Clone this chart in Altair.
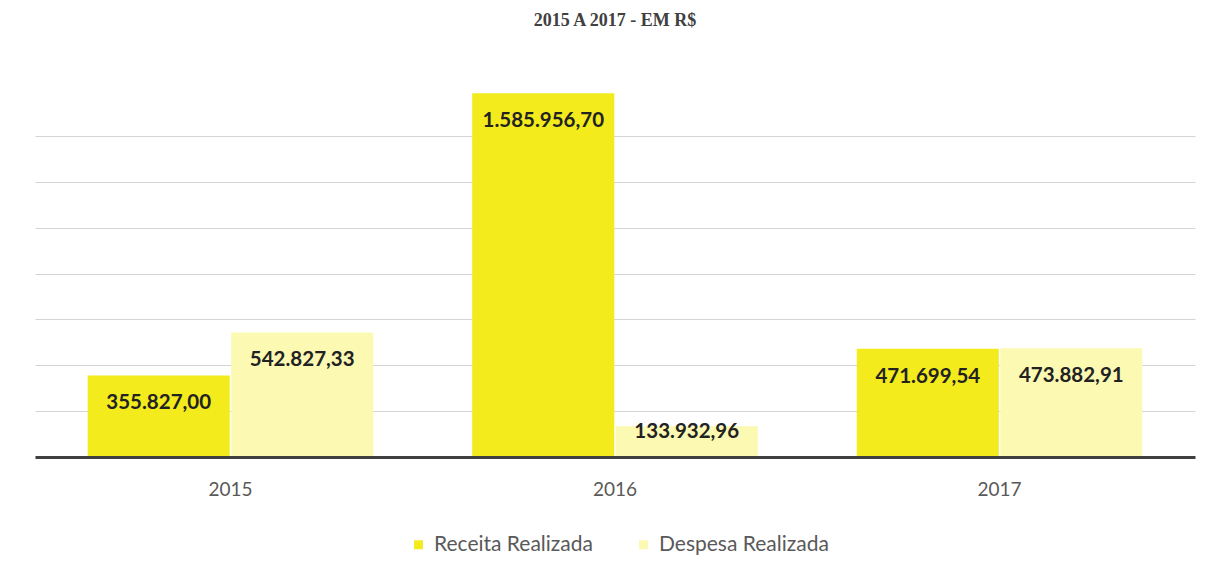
import altair as alt
import pandas as pd

years = ["2015", "2016", "2017"]
series = ["Receita Realizada", "Despesa Realizada"]
receita = [355827.00, 1585956.70, 471699.54]
despesa = [542827.33, 133932.96, 473882.91]
colors = ["#f3eb1c", "#fcf9b2"]
title_text = "2015 A 2017 - EM R$"


def br(v):
    return f"{v:,.2f}".replace(",", "X").replace(".", ",").replace("X", ".")


rows = []
for i, y in enumerate(years):
    rows.append({"ano": y, "serie": series[0], "valor": receita[i], "rotulo": br(receita[i])})
    rows.append({"ano": y, "serie": series[1], "valor": despesa[i], "rotulo": br(despesa[i])})
df = pd.DataFrame(rows)

x = alt.X(
    "ano:N",
    sort=years,
    scale=alt.Scale(paddingInner=0.2574, paddingOuter=0.137),
    axis=alt.Axis(
        title="",
        ticks=False,
        domainColor="#404040",
        domainWidth=3,
        labelColor="#595959",
        labelFont="Lato",
        labelFontSize=19,
        labelPadding=23,
        labelAngle=0,
        grid=False,
        zindex=1,
    ),
)
xo = alt.XOffset("serie:N", sort=series, scale=alt.Scale(paddingInner=0.01))

bars = alt.Chart(df).mark_bar().encode(
    x=x,
    xOffset=xo,
    y=alt.Y(
        "valor:Q",
        scale=alt.Scale(domain=[0, 1600000], nice=False),
        axis=alt.Axis(
            title="",
            labels=False,
            ticks=False,
            domain=False,
            values=[200000, 400000, 600000, 800000, 1000000, 1200000, 1400000],
            gridColor="#d4d4d4",
            gridWidth=1,
        ),
    ),
    color=alt.Color(
        "serie:N",
        sort=series,
        scale=alt.Scale(domain=series, range=colors),
        legend=alt.Legend(
            title=None,
            orient="none",
            direction="horizontal",
            legendX=373,
            legendY=444,
            symbolType="square",
            symbolSize=80,
            symbolStrokeWidth=0,
            labelFont="Lato",
            labelFontSize=21,
            labelColor="#595959",
            labelLimit=400,
            columnPadding=40,
            labelOffset=5,
        ),
    ),
)

labels = alt.Chart(df).transform_calculate(
    pos="datum.valor > 300000 ? datum.valor - 122000 : datum.valor * 0.8"
).mark_text(
    font="Lato", fontWeight="bold", fontSize=20.5, color="#222222", baseline="middle", align="center"
).encode(
    x=x,
    xOffset=xo,
    y=alt.Y("pos:Q"),
    text="rotulo:N",
)

chart = (
    alt.layer(bars, labels)
    .properties(
        width=1160,
        height=367,
        autosize=alt.AutoSizeParams(type="none"),
        padding={"left": 27, "top": 82, "right": 10, "bottom": 108},
        title=alt.TitleParams(
            title_text,
            font="Liberation Serif",
            fontWeight="bold",
            fontSize=18,
            color="#404040",
            anchor="middle",
            offset=60,
        ),
        background="white",
    )
    .configure_view(stroke=None)
)

chart.save("out.html", embed_options={"renderer": "svg", "actions": False})
